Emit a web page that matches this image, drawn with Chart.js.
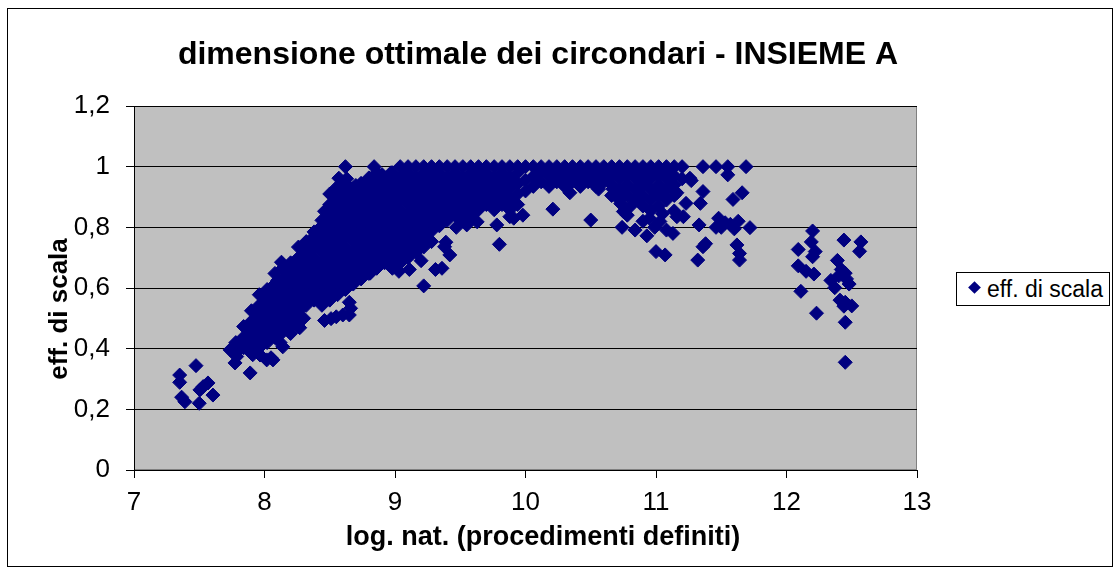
<!DOCTYPE html>
<html>
<head>
<meta charset="utf-8">
<title>dimensione ottimale dei circondari - INSIEME A</title>
<script src="https://cdn.jsdelivr.net/npm/chart.js@4.4.0/dist/chart.umd.min.js"></script>
<style>
  body { margin: 0; background: #fff; }
  #contenitore { position: relative; width: 1118px; height: 572px; }
  #cornice { position: absolute; left: 7px; top: 8px; width: 1104px; height: 557px; border: 1px solid #000; pointer-events: none; }
  #legenda { position: absolute; left: 956px; top: 272px; width: 154px; height: 34px; box-sizing: border-box;
             border: 1px solid #000; background: #fff; font: 23px "Liberation Sans", Arial, sans-serif; white-space: nowrap; }
  #legenda .rombo { position: absolute; left: 13px; top: 10px; width: 9px; height: 9px; background: #000080; transform: rotate(45deg); }
  #legenda .testo { position: absolute; left: 30px; top: 3px; line-height: 26px; }
</style>
</head>
<body>
<div id="contenitore">
  <canvas id="grafico" width="1118" height="572"></canvas>
  <div id="cornice"></div>
  <div id="legenda"><span class="rombo"></span><span class="testo">eff. di scala</span></div>
</div>
<script>
// Testi del grafico
var titolo = 'dimensione ottimale dei circondari - INSIEME A';
var titoloX = 'log. nat. (procedimenti definiti)';
var titoloY = 'eff. di scala';
var nomeSerie = 'eff. di scala';

// Nuvola densa: ascisse delle colonne e valori letti in ogni colonna
var colonneX = [7.78, 7.84, 7.90, 7.96, 8.02, 8.08, 8.14, 8.20, 8.26, 8.32, 8.38, 8.44, 8.50, 8.56, 8.62,
  8.68, 8.74, 8.80, 8.86, 8.92, 8.98, 9.04, 9.10, 9.16, 9.22, 9.28, 9.34, 9.40, 9.46, 9.52, 9.58, 9.64,
  9.70, 9.76, 9.82, 9.88, 9.94, 10.00, 10.06, 10.12, 10.18, 10.24, 10.30, 10.36, 10.42, 10.48, 10.54,
  10.60, 10.66, 10.72, 10.78, 10.84, 10.90, 10.96, 11.02, 11.08, 11.14, 11.20];
var colonneY = [
  [0.385, 0.42],
  [0.403, 0.438, 0.473],
  [0.385, 0.42, 0.455, 0.49, 0.525],
  [0.403, 0.438, 0.473, 0.508, 0.543, 0.578],
  [0.42, 0.455, 0.49, 0.525, 0.56, 0.595],
  [0.438, 0.473, 0.508, 0.543, 0.578, 0.613, 0.648],
  [0.455, 0.49, 0.525, 0.56, 0.595, 0.63, 0.665],
  [0.473, 0.508, 0.543, 0.578, 0.613, 0.648, 0.683],
  [0.49, 0.525, 0.56, 0.595, 0.63, 0.665, 0.70, 0.735],
  [0.543, 0.578, 0.613, 0.648, 0.683, 0.718, 0.753],
  [0.56, 0.595, 0.63, 0.665, 0.70, 0.735, 0.77],
  [0.543, 0.578, 0.613, 0.648, 0.683, 0.718, 0.753, 0.788, 0.823],
  [0.56, 0.595, 0.63, 0.665, 0.70, 0.735, 0.77, 0.805, 0.84, 0.875, 0.91],
  [0.578, 0.613, 0.648, 0.683, 0.718, 0.753, 0.788, 0.823, 0.858, 0.893, 0.928],
  [0.595, 0.63, 0.665, 0.70, 0.735, 0.77, 0.805, 0.84, 0.875, 0.91, 0.945],
  [0.613, 0.648, 0.683, 0.718, 0.753, 0.788, 0.823, 0.858, 0.893, 0.928],
  [0.63, 0.665, 0.70, 0.735, 0.77, 0.805, 0.84, 0.875, 0.91, 0.945],
  [0.648, 0.683, 0.718, 0.753, 0.788, 0.823, 0.858, 0.893, 0.928, 0.963],
  [0.665, 0.70, 0.735, 0.77, 0.805, 0.84, 0.875, 0.91, 0.945, 0.98],
  [0.683, 0.718, 0.753, 0.788, 0.823, 0.858, 0.893, 0.928, 0.963],
  [0.665, 0.70, 0.735, 0.77, 0.805, 0.84, 0.875, 0.91, 0.945, 0.98],
  [0.683, 0.718, 0.753, 0.788, 0.823, 0.858, 0.893, 0.928, 0.963, 1],
  [0.70, 0.735, 0.77, 0.805, 0.84, 0.875, 0.91, 0.945, 0.98, 1],
  [0.718, 0.753, 0.788, 0.823, 0.858, 0.893, 0.928, 0.963, 1],
  [0.735, 0.77, 0.805, 0.84, 0.875, 0.91, 0.945, 0.98, 1],
  [0.753, 0.788, 0.823, 0.858, 0.893, 0.928, 0.963, 1],
  [0.805, 0.84, 0.875, 0.91, 0.945, 0.98, 1],
  [0.823, 0.858, 0.893, 0.928, 0.963, 1],
  [0.84, 0.875, 0.91, 0.945, 0.98, 1],
  [0.823, 0.858, 0.893, 0.928, 0.963, 1],
  [0.84, 0.875, 0.91, 0.945, 0.98, 1],
  [0.858, 0.893, 0.928, 0.963, 1],
  [0.875, 0.91, 0.945, 0.98, 1],
  [0.858, 0.893, 0.928, 0.963, 1],
  [0.875, 0.91, 0.945, 0.98, 1],
  [0.858, 0.893, 0.928, 0.963, 1],
  [0.875, 0.91, 0.945, 0.98, 1],
  [0.92, 0.955, 1],
  [0.935, 0.968, 1],
  [0.95, 0.985, 1],
  [0.935, 0.968, 1],
  [0.95, 0.985, 1],
  [0.935, 0.968, 1],
  [0.95, 0.985, 1],
  [0.935, 0.968, 1],
  [0.95, 0.985, 1],
  [0.935, 0.968, 1],
  [0.95, 0.985, 1],
  [0.905, 0.94, 0.97, 1],
  [0.89, 0.925, 0.96, 0.985, 1],
  [0.905, 0.94, 0.97, 1],
  [0.89, 0.925, 0.96, 0.985, 1],
  [0.87, 0.905, 0.94, 0.97, 1],
  [0.855, 0.89, 0.925, 0.96, 0.985, 1],
  [0.87, 0.905, 0.94, 0.97, 1],
  [0.89, 0.925, 0.96, 0.985, 1],
  [0.905, 0.94, 0.97, 1],
  [0.96, 1]
];

// Punti isolati [x, y]
var gruppoSinistra = [[7.35, 0.313], [7.35, 0.289], [7.365, 0.24], [7.39, 0.225], [7.475, 0.344], [7.5, 0.22],
  [7.505, 0.264], [7.53, 0.275], [7.567, 0.287], [7.605, 0.247]];

var puntiSalita = [[7.736, 0.396], [7.774, 0.353], [7.787, 0.374], [7.85, 0.412], [7.89, 0.32], [7.91, 0.38],
  [7.966, 0.379], [8.017, 0.363], [8.05, 0.37], [8.065, 0.363], [8.14, 0.406], [8.12, 0.42], [8.13, 0.685],
  [8.10, 0.625], [8.2, 0.45], [8.27, 0.469], [8.3, 0.5], [8.46, 0.493], [8.51, 0.499], [8.55, 0.505],
  [8.6, 0.511], [8.65, 0.511], [8.66, 0.533], [8.65, 0.553], [8.43, 0.80], [8.46, 0.853], [8.38, 0.785],
  [8.55, 0.93], [8.57, 0.962], [8.62, 1], [8.6, 0.926], [8.63, 0.96], [8.65, 0.9], [8.7, 0.938], [8.75, 0.94],
  [8.8, 0.956], [8.84, 1], [8.9, 0.974], [8.97, 0.98]];

var puntiCentro = [[8.81, 0.649], [8.95, 0.685], [9.03, 0.655], [9.11, 0.661], [9.2, 0.69], [9.22, 0.607],
  [9.31, 0.661], [9.36, 0.665], [9.38, 0.736], [9.39, 0.751], [9.42, 0.709], [9.47, 0.8], [9.55, 0.808],
  [9.63, 0.818], [9.78, 0.808], [9.8, 0.744], [9.88, 0.835], [9.91, 0.83], [9.98, 0.84], [10.21, 0.86],
  [10.34, 0.914], [10.5, 0.824], [10.56, 0.926], [10.67, 0.926]];

var puntiAlti = [[10.73, 0.878], [10.75, 0.852], [10.8, 0.868], [10.88, 0.9], [10.74, 0.8], [10.78, 0.84],
  [10.84, 0.791], [10.93, 0.772], [11.0, 0.72], [11.07, 0.709], [11.03, 0.819], [11.08, 0.791], [11.13, 0.78],
  [11.16, 0.835], [11.14, 0.854], [11.16, 0.914], [10.95, 0.83], [11.05, 0.845], [10.99, 0.8], [10.9, 0.82],
  [11.21, 0.835], [11.23, 0.879], [11.26, 0.962], [11.27, 0.954], [11.36, 1], [11.46, 1], [11.55, 1],
  [11.69, 1], [11.55, 0.973], [11.36, 0.918], [11.34, 0.879], [11.66, 0.914], [11.59, 0.892], [11.33, 0.808],
  [11.46, 0.8], [11.48, 0.83], [11.5, 0.8], [11.53, 0.815], [11.57, 0.81], [11.6, 0.795], [11.63, 0.82],
  [11.72, 0.799], [11.36, 0.736], [11.32, 0.692], [11.38, 0.746], [11.62, 0.742], [11.64, 0.714], [11.64, 0.692]];

var gruppoDestra = [[12.09, 0.727], [12.09, 0.673], [12.11, 0.589], [12.2, 0.788], [12.19, 0.752], [12.22, 0.72],
  [12.2, 0.703], [12.15, 0.655], [12.21, 0.646], [12.23, 0.517], [12.34, 0.625], [12.37, 0.601], [12.39, 0.691],
  [12.42, 0.661], [12.44, 0.758], [12.45, 0.649], [12.48, 0.613], [12.46, 0.63], [12.41, 0.56], [12.45, 0.553],
  [12.44, 0.54], [12.5, 0.541], [12.45, 0.487], [12.45, 0.355], [12.57, 0.752], [12.56, 0.721], [12.4, 0.64]];

// Assi
var minX = 7, maxX = 13, passoX = 1;
var minY = 0, maxY = 1.2, passoY = 0.2;

var font = '"Liberation Sans", Arial, sans-serif';

// Metti insieme tutti i punti
var punti = [];
colonneX.forEach(function (x, i) {
  colonneY[i].forEach(function (y) { punti.push({ x: x, y: y }); });
});
[gruppoSinistra, puntiSalita, puntiCentro, puntiAlti, gruppoDestra].forEach(function (gruppo) {
  gruppo.forEach(function (p) { punti.push({ x: p[0], y: p[1] }); });
});

// Sfondo grigio dell'area del grafico
var sfondo = {
  id: 'sfondo',
  beforeDraw: function (chart) {
    var ctx = chart.ctx, a = chart.chartArea;
    ctx.save();
    ctx.fillStyle = '#fff';
    ctx.fillRect(0, 0, chart.width, chart.height);
    ctx.fillStyle = '#c0c0c0';
    ctx.fillRect(a.left, a.top, a.right - a.left, a.bottom - a.top);
    ctx.strokeStyle = '#808080';
    ctx.lineWidth = 1;
    ctx.strokeRect(a.left + 0.5, a.top + 0.5, a.right - a.left - 1, a.bottom - a.top - 1);
    ctx.restore();
  }
};

// Titoli posizionati come nell'originale (Excel non li centra sull'area del grafico)
var titoli = {
  id: 'titoli',
  afterDraw: function (chart) {
    var c = chart.ctx;
    c.save();
    c.fillStyle = '#000';
    c.textAlign = 'center';
    c.textBaseline = 'middle';
    c.font = 'bold 32px ' + font;
    c.fillText(titolo, 538, 55);
    c.font = 'bold 27px ' + font;
    c.fillText(titoloX, 543, 538);
    c.translate(60, 309);
    c.rotate(-Math.PI / 2);
    c.font = 'bold 26px ' + font;
    c.fillText(titoloY, 0, 0);
    c.restore();
  }
};

var ctx = document.getElementById('grafico').getContext('2d');
new Chart(ctx, {
  type: 'scatter',
  data: {
    datasets: [{
      label: nomeSerie,
      data: punti,
      pointStyle: 'rectRot',
      pointRadius: 7,
      pointHoverRadius: 7,
      backgroundColor: '#000080',
      borderColor: '#000080',
      borderWidth: 1
    }]
  },
  options: {
    responsive: false,
    animation: false,
    layout: { padding: { left: 0, right: 201, top: 106, bottom: 0 } },
    plugins: {
      legend: { display: false },
      tooltip: { enabled: false },
      title: { display: false }
    },
    scales: {
      x: {
        type: 'linear',
        min: minX, max: maxX,
        ticks: { stepSize: passoX, color: '#000', font: { family: font, size: 26 }, padding: 9 },
        grid: { drawOnChartArea: false, color: '#000', tickLength: 8 },
        border: { color: '#000' },
        afterFit: function (s) { s.height = 102; }
      },
      y: {
        min: minY, max: maxY,
        ticks: {
          stepSize: passoY, color: '#000', font: { family: font, size: 26 }, padding: 16,
          callback: function (v) { return String(Math.round(v * 10) / 10).replace('.', ','); }
        },
        grid: { color: '#000', tickLength: 8 },
        border: { color: '#000' },
        afterFit: function (s) { s.width = 134; }
      }
    }
  },
  plugins: [sfondo, titoli]
});
</script>
</body>
</html>
